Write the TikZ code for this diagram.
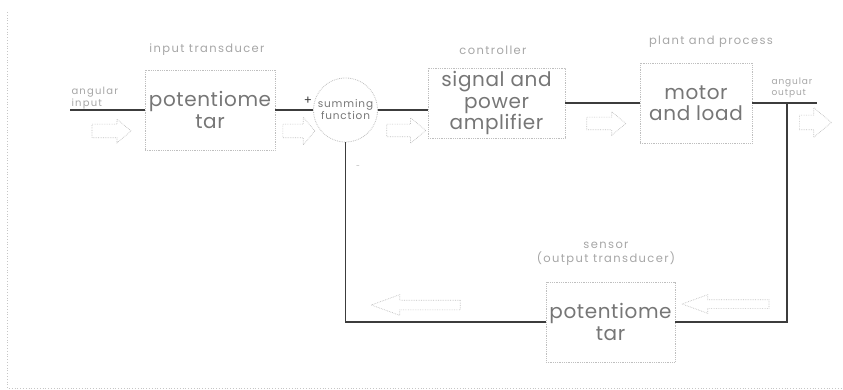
\documentclass[tikz,border=0pt]{standalone}
\usepackage{fontspec}
\setmainfont{Poppins}
\usepackage{xcolor}
\usetikzlibrary{arrows.meta, positioning, shapes.geometric, shapes.arrows, calc}
\definecolor{scangray}{RGB}{118,118,118}
\definecolor{wiregray}{RGB}{60,60,60}

\begin{document}
\begin{tikzpicture}[
  x=1pt, y=-1pt,
  every node/.style={text=scangray},
  block/.style={draw=gray!50, densely dotted, line width=0.8pt, align=center, inner sep=0pt, font=\fontsize{20}{21.5}\selectfont\addfontfeatures{LetterSpace=3}},
  caption/.style={text=gray!70, align=center, font=\fontsize{11.5}{14}\selectfont\addfontfeatures{LetterSpace=12}},
  wire/.style={line width=1.3pt, draw=wiregray},
  flow/.style={single arrow, draw=gray!50, densely dotted, line width=0.7pt, inner xsep=0pt, single arrow tip angle=80},
  flowback/.style={flow, shape border rotate=180, single arrow tip angle=40}
]
  \useasboundingbox (0,0) rectangle (843,390);

  % scan frame
  \draw[gray!45, dotted, line width=0.8pt] (7,12) -- (7,388) -- (843,388);

  % blocks
  \node[block, minimum width=130pt, minimum height=80pt] (pot1) at (210,110) {potentiome\\tar};
  \node[draw=gray!50, densely dotted, line width=0.8pt, circle, minimum size=64pt, inner sep=0pt, align=center, font=\fontsize{10.5}{12}\selectfont\addfontfeatures{LetterSpace=8}] (sum) at (345.5,110) {summing\\function};
  \node[block, minimum width=137pt, minimum height=70pt] (amp) at (496.5,103) {signal and\\power\\amplifier};
  \node[block, minimum width=112pt, minimum height=80pt] (plant) at (696,103) {motor\\and load};
  \node[block, minimum width=129pt, minimum height=80pt] (sense) at (610.5,322) {potentiome\\tar};

  % captions
  \node[caption] (capin) at (207,50) {input transducer};
  \node[caption] (capctl) at (493,50) {controller};
  \node[caption] (capplant) at (711,42) {plant and process};
  \node[caption] (capsense) at (606,254) {sensor\\(output transducer)};
  \node[caption, anchor=west, align=left, font=\fontsize{10}{11.5}\selectfont\addfontfeatures{LetterSpace=12}] (capang) at (68,98) {angular\\input};
  \node[caption, anchor=west, align=left, font=\fontsize{9}{10.5}\selectfont\addfontfeatures{LetterSpace=10}] (capout) at (768,88) {angular\\output};
  \node[text=wiregray, font=\fontsize{12}{12}\selectfont] (plus) at (308,101) {+};
  \node[text=gray!70, font=\fontsize{7}{7}\selectfont] (minus) at (358,167) {-};

  % free ends
  \coordinate (inL) at (70,110);
  \coordinate (outR) at (817,103);
  \coordinate (tap) at (787,103);

  % connectors
  \draw[wire] (inL) -- (pot1.west);
  \draw[wire] (pot1.east) -- (sum.west);
  \draw[wire] (sum.east) -- (sum.east -| amp.west);
  \draw[wire] (amp.east) -- (plant.west);
  \draw[wire] (plant.east) -- (outR);
  \draw[wire] (tap) |- (sense.east);
  \draw[wire] (sense.west) -| (sum.south);

  % signal flow arrows
  \node[flow, minimum height=39pt, inner ysep=6.5pt, single arrow head extend=5pt] (f1) at (107.5,131) {};
  \node[flow, minimum height=32pt, inner ysep=6.5pt, single arrow head extend=7pt, single arrow tip angle=100] (f2) at (296,131) {};
  \node[flow, minimum height=39pt, inner ysep=6pt, single arrow head extend=6.5pt] (f3) at (402.5,130.5) {};
  \node[flow, minimum height=39pt, inner ysep=6pt, single arrow head extend=5.5pt] (f4) at (602.5,123.5) {};
  \node[flow, minimum height=32pt, inner ysep=7pt, single arrow head extend=7.5pt] (f5) at (811,122.5) {};
  \node[flowback, minimum height=89pt, inner ysep=4.5pt, single arrow head extend=5.5pt] (f6) at (422.5,305) {};
  \node[flowback, minimum height=87pt, inner ysep=4pt, single arrow head extend=5pt] (f7) at (731.5,304) {};
\end{tikzpicture}
\end{document}
